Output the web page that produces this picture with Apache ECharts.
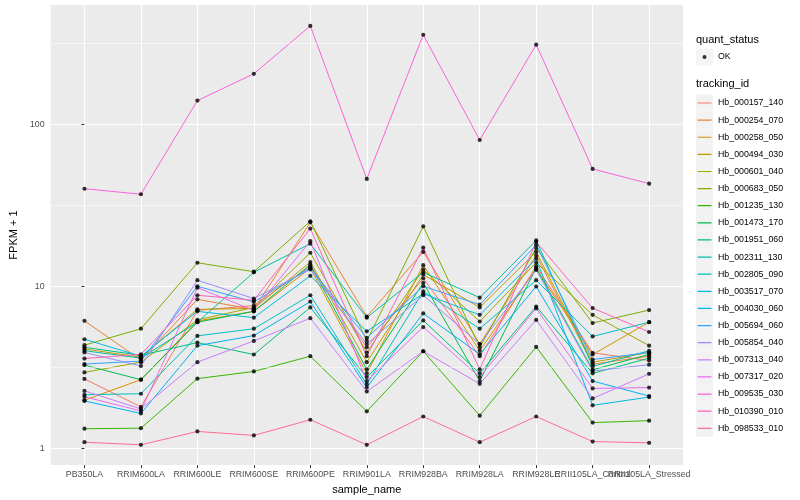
<!DOCTYPE html>
<html><head><meta charset="utf-8">
<script src="https://cdn.jsdelivr.net/npm/echarts@6/dist/echarts.min.js"></script>
<style>html,body{margin:0;padding:0;background:#fff}#c{width:800px;height:500px}</style>
</head><body><div id="c"></div>
<script>
const categories = ['PB350LA','RRIM600LA','RRIM600LE','RRIM600SE','RRIM600PE','RRIM901LA','RRIM928BA','RRIM928LA','RRIM928LE','RRII105LA_Control','RRII105LA_Stressed'];
const trackingIds = ['Hb_000157_140','Hb_000254_070','Hb_000258_050','Hb_000494_030','Hb_000601_040','Hb_000683_050','Hb_001235_130','Hb_001473_170','Hb_001951_060','Hb_002311_130','Hb_002805_090','Hb_003517_070','Hb_004030_060','Hb_005694_060','Hb_005854_040','Hb_007313_040','Hb_007317_020','Hb_009535_030','Hb_010390_010','Hb_098533_010'];
const colors = ['#F8766D','#EA8331','#D89000','#C09B00','#A3A500','#7CAE00','#39B600','#00BB4E','#00BF7D','#00C1A3','#00BFC4','#00BAE0','#00B0F6','#35A2FF','#9590FF','#C77CFF','#E76BF3','#FA62DB','#FF62BC','#FF6C91'];

const hb_000157_140 = [2.68, 1.8, 7.1, 7.6, 13.3, 4.2, 11.2, 3.7, 13.3, 3.88, 3.48];
const hb_000254_070 = [6.12, 3.5, 8.3, 7.2, 24.8, 6.5, 16.3, 4.4, 15.5, 3.3, 3.7];
const hb_000258_050 = [1.98, 2.65, 6.1, 7.0, 12.9, 2.9, 13.5, 4.0, 12.8, 3.79, 6.0];
const hb_000494_030 = [4.1, 3.65, 7.2, 7.3, 14.1, 3.4, 11.8, 7.4, 16.3, 3.4, 3.9];
const hb_000601_040 = [2.94, 3.4, 6.2, 7.4, 16.1, 3.9, 12.7, 6.06, 14.0, 6.66, 4.3];
const hb_000683_050 = [4.33, 5.47, 13.97, 12.3, 25.2, 4.6, 23.4, 4.2, 17.2, 5.93, 7.13];
const hb_001235_130 = [1.32, 1.33, 2.69, 2.98, 3.7, 1.69, 3.97, 1.59, 4.22, 1.44, 1.48];
const hb_001473_170 = [3.26, 2.65, 6.0, 7.0, 13.6, 3.07, 10.5, 2.6, 13.0, 3.05, 3.8];
const hb_001951_060 = [4.2, 3.75, 4.49, 3.79, 7.4, 2.75, 6.15, 2.9, 7.5, 2.9, 3.6];
const hb_002311_130 = [4.0, 3.6, 6.0, 12.2, 18.3, 6.4, 12.2, 8.5, 19.2, 3.2, 4.0];
const hb_002805_090 = [2.14, 2.17, 4.94, 5.47, 8.8, 2.48, 9.3, 5.47, 10.9, 4.9, 6.0];
const hb_003517_070 = [4.71, 3.7, 7.0, 6.4, 11.6, 5.27, 9.0, 6.66, 14.8, 1.84, 2.07];
const hb_004030_060 = [1.96, 1.64, 4.3, 4.96, 8.04, 2.37, 6.8, 3.8, 9.97, 2.6, 2.1];
const hb_005694_060 = [3.31, 3.45, 10.0, 8.0, 13.0, 4.8, 10.0, 7.7, 18.0, 3.53, 3.9];
const hb_005854_040 = [3.9, 3.22, 10.9, 8.4, 12.7, 4.4, 8.8, 4.4, 12.6, 3.0, 3.28];
const hb_007313_040 = [2.26, 1.75, 3.4, 4.6, 6.35, 2.24, 3.97, 2.5, 6.2, 2.03, 2.88];
const hb_007317_020 = [2.08, 1.7, 9.8, 7.1, 18.97, 2.6, 5.6, 2.75, 7.3, 2.34, 2.37];
const hb_009535_030 = [40, 37, 140, 205, 405, 46, 357, 80, 310, 53, 43];
const hb_010390_010 = [3.58, 3.8, 8.8, 8.2, 22.7, 3.7, 17.3, 3.07, 18.8, 7.33, 5.22];
const hb_098533_010 = [1.09, 1.05, 1.27, 1.2, 1.5, 1.05, 1.57, 1.09, 1.57, 1.1, 1.08];

const yTicks = [1, 10, 100];
const yMinorBreaks = [3.1623, 31.623, 316.23];

const seriesValues = [hb_000157_140, hb_000254_070, hb_000258_050, hb_000494_030, hb_000601_040, hb_000683_050, hb_001235_130, hb_001473_170, hb_001951_060, hb_002311_130, hb_002805_090, hb_003517_070, hb_004030_060, hb_005694_060, hb_005854_040, hb_007313_040, hb_007317_020, hb_009535_030, hb_010390_010, hb_098533_010];

const FONT = 'Liberation Sans';
const catIdx = categories.map((_, i) => i);
// labels split over two stacked bottom axes so that the overlapping last pair both stay visible
const labelIdxMain = catIdx.filter(i => i !== categories.length - 2);
const labelIdxExtra = [categories.length - 2];
const chart = echarts.init(document.getElementById('c'));

const lineSeries = trackingIds.map((id, k) => ({
  name: id, type: 'line', z: 2, symbol: 'none', showSymbol: false, silent: true,
  lineStyle: {color: colors[k], width: 1}, itemStyle: {color: colors[k]},
  emphasis: {disabled: true},
  data: seriesValues[k].map((v, i) => [i, v])
}));
const okPoints = [];
seriesValues.forEach(arr => arr.forEach((v, i) => okPoints.push([i, v])));

const linePath = 'path://M0,0 L0.01,0 L0,0.01 Z M17,17 L16.99,17 L17,16.99 Z M1.5,7.9 L15.5,7.9 L15.5,9.1 L1.5,9.1 Z';
const dotPath = 'path://M0,0 L0.01,0 L0,0.01 Z M17,17 L16.99,17 L17,16.99 Z M10.5,8.5 A2,2 0 1 1 6.5,8.5 A2,2 0 1 1 10.5,8.5 Z';

const legendBase = {orient: 'vertical', left: 696, padding: 0, itemWidth: 17, itemHeight: 17, itemGap: 0.12, selectedMode: false,
  textStyle: {fontFamily: FONT, fontSize: 8.8, color: '#000'}};

const xLabelStyle = {formatter: v => categories[Math.round(v)], color: '#4D4D4D', fontSize: 8.8, fontFamily: FONT, margin: 5, hideOverlap: false};

chart.setOption({
  animation: false,
  backgroundColor: '#fff',
  textStyle: {fontFamily: FONT},
  title: [
    {text: 'quant_status', left: 696, top: 34, padding: 0, textStyle: {fontFamily: FONT, fontSize: 11, fontWeight: 'normal', color: '#000'}},
    {text: 'tracking_id', left: 696, top: 78, padding: 0, textStyle: {fontFamily: FONT, fontSize: 11, fontWeight: 'normal', color: '#000'}}
  ],
  grid: {left: 40, right: 117, top: 5, bottom: 32, show: true, backgroundColor: '#EBEBEB', borderWidth: 0, containLabel: false},
  xAxis: [{
    type: 'value', min: -0.6, max: 10.6, position: 'bottom', offset: 0,
    name: 'sample_name', nameLocation: 'middle', nameGap: 13,
    nameTextStyle: {fontFamily: FONT, fontSize: 11, color: '#000'},
    axisLine: {show: false},
    axisTick: {show: true, length: 3, lineStyle: {color: '#333', width: 1}, customValues: catIdx},
    axisLabel: Object.assign({customValues: labelIdxMain}, xLabelStyle),
    splitLine: {show: true, lineStyle: {color: '#fff', width: 1.1}}
  }, {
    type: 'value', min: -0.6, max: 10.6, position: 'bottom', offset: 0,
    axisLine: {show: false},
    axisTick: {show: false, customValues: labelIdxExtra},
    axisLabel: Object.assign({customValues: labelIdxExtra}, xLabelStyle),
    splitLine: {show: false}
  }],
  yAxis: {
    type: 'log', logBase: 10, min: 0.787, max: 545,
    name: 'FPKM + 1', nameLocation: 'middle', nameGap: 23,
    nameTextStyle: {fontFamily: FONT, fontSize: 11, color: '#000'},
    axisLine: {show: false},
    axisTick: {show: true, length: 3, lineStyle: {color: '#333', width: 1}, customValues: yTicks},
    axisLabel: {customValues: yTicks, color: '#4D4D4D', fontSize: 8.8, fontFamily: FONT, margin: 6, showMinLabel: true, showMaxLabel: true},
    splitLine: {show: true, lineStyle: {color: '#fff', width: 1.1}}
  },
  legend: [
    Object.assign({}, legendBase, {top: 94.5, icon: 'rect', z: 2, itemStyle: {color: '#F2F2F2', borderWidth: 0}, data: trackingIds}),
    Object.assign({}, legendBase, {top: 94.5, icon: linePath, z: 3, formatter: () => '', itemStyle: {borderWidth: 0},
      data: trackingIds.map((id, k) => ({name: id, itemStyle: {color: colors[k], borderWidth: 0}}))}),
    Object.assign({}, legendBase, {top: 48.5, icon: 'rect', z: 2, itemStyle: {color: '#F2F2F2', borderWidth: 0}, data: ['OK']}),
    Object.assign({}, legendBase, {top: 48.5, icon: dotPath, z: 3, formatter: () => '', itemStyle: {color: '#000', borderWidth: 0}, data: [{name: 'OK', itemStyle: {color: '#000', borderWidth: 0}}]})
  ],
  series: [
    {type: 'line', name: 'minor', data: [], z: 1, silent: true,
      markLine: {silent: true, symbol: 'none', label: {show: false}, animation: false,
        lineStyle: {color: '#fff', width: 0.55, type: 'solid'}, emphasis: {disabled: true},
        data: yMinorBreaks.map(v => ({yAxis: v}))}}
  ].concat(lineSeries).concat([
    {type: 'scatter', name: 'OK', z: 5, silent: true, symbol: 'circle', symbolSize: 4.2,
      itemStyle: {color: '#000'}, emphasis: {disabled: true}, data: okPoints}
  ])
});
</script></body></html>
